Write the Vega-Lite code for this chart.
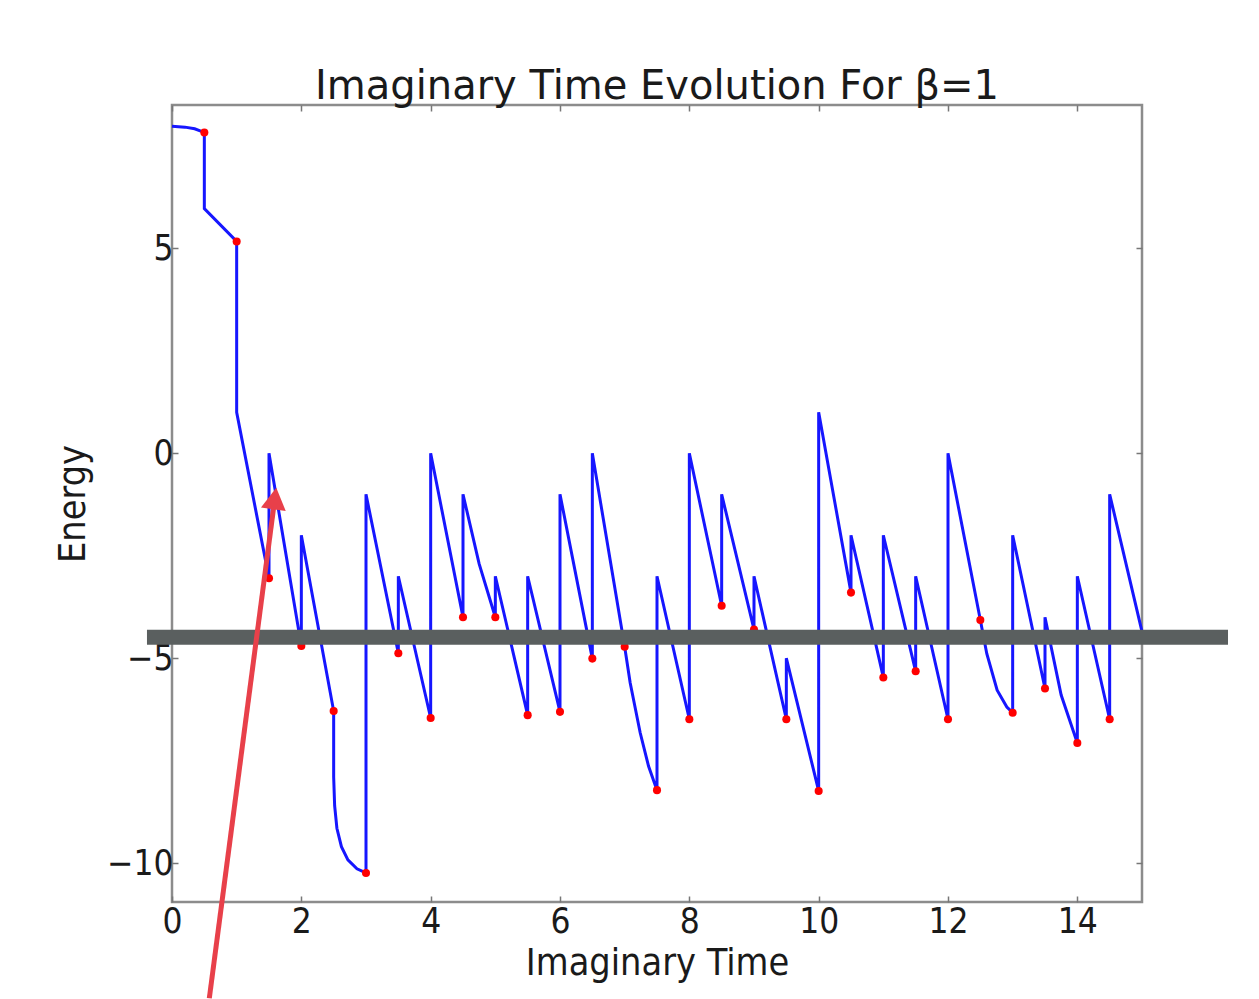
{
  "$schema": "https://vega.github.io/schema/vega-lite/v6.json",
  "autosize": {"type": "none"},
  "width": 970,
  "height": 797,
  "padding": {"left": 172, "top": 105, "right": 117, "bottom": 97},
  "background": "white",
  "title": {"text": "Imaginary Time Evolution For β=1", "fontSize": 40, "font": "DejaVu Sans", "fontWeight": "normal", "color": "#1a1a1a", "baseline": "alphabetic", "offset": 5, "dy": 40, "anchor": "middle"},
  "config": {
    "font": "DejaVu Sans Condensed",
    "view": {"stroke": "#8c8c8c", "strokeWidth": 2.5},
    "axis": {
      "domain": false,
      "grid": false,
      "labelFlush": false,
      "tickSize": -6,
      "tickColor": "#777777",
      "tickWidth": 1.5,
      "labelFontSize": 35,
      "labelColor": "#1a1a1a",
      "labelFont": "DejaVu Sans Condensed",
      "titleFont": "DejaVu Sans Condensed",
      "titleFontSize": 37.5,
      "titleFontWeight": "normal",
      "titleColor": "#1a1a1a"
    }
  },
  "datasets": {
    "curve": [
      {"i": 1, "t": 0, "E": 7.98},
      {"i": 2, "t": 0.2, "E": 7.96},
      {"i": 3, "t": 0.35, "E": 7.92},
      {"i": 4, "t": 0.5, "E": 7.83},
      {"i": 5, "t": 0.5, "E": 5.97},
      {"i": 6, "t": 1.0, "E": 5.17},
      {"i": 7, "t": 1.0, "E": 1.0},
      {"i": 8, "t": 1.5, "E": -3.05},
      {"i": 9, "t": 1.5, "E": 0.0},
      {"i": 10, "t": 2.0, "E": -4.7},
      {"i": 11, "t": 2.0, "E": -2.0},
      {"i": 12, "t": 2.5, "E": -6.29},
      {"i": 13, "t": 2.5, "E": -7.9},
      {"i": 14, "t": 2.515, "E": -8.6},
      {"i": 15, "t": 2.55, "E": -9.15},
      {"i": 16, "t": 2.62, "E": -9.6},
      {"i": 17, "t": 2.72, "E": -9.92},
      {"i": 18, "t": 2.86, "E": -10.14},
      {"i": 19, "t": 3.0, "E": -10.24},
      {"i": 20, "t": 3.0, "E": -1.0},
      {"i": 21, "t": 3.5, "E": -4.88},
      {"i": 22, "t": 3.5, "E": -3.0},
      {"i": 23, "t": 4.0, "E": -6.46},
      {"i": 24, "t": 4.0, "E": 0.0},
      {"i": 25, "t": 4.5, "E": -4.0},
      {"i": 26, "t": 4.5, "E": -1.0},
      {"i": 27, "t": 4.75, "E": -2.7},
      {"i": 28, "t": 5.0, "E": -4.0},
      {"i": 29, "t": 5.0, "E": -3.0},
      {"i": 30, "t": 5.5, "E": -6.39},
      {"i": 31, "t": 5.5, "E": -3.0},
      {"i": 32, "t": 6.0, "E": -6.31},
      {"i": 33, "t": 6.0, "E": -1.0},
      {"i": 34, "t": 6.5, "E": -5.01},
      {"i": 35, "t": 6.5, "E": 0.0},
      {"i": 36, "t": 7.0, "E": -4.72},
      {"i": 37, "t": 7.085, "E": -5.6},
      {"i": 38, "t": 7.24, "E": -6.82},
      {"i": 39, "t": 7.37, "E": -7.64},
      {"i": 40, "t": 7.5, "E": -8.22},
      {"i": 41, "t": 7.5, "E": -3.0},
      {"i": 42, "t": 8.0, "E": -6.49},
      {"i": 43, "t": 8.0, "E": 0.0},
      {"i": 44, "t": 8.5, "E": -3.72},
      {"i": 45, "t": 8.5, "E": -1.0},
      {"i": 46, "t": 9.0, "E": -4.3},
      {"i": 47, "t": 9.0, "E": -3.0},
      {"i": 48, "t": 9.5, "E": -6.49},
      {"i": 49, "t": 9.5, "E": -5.0},
      {"i": 50, "t": 10.0, "E": -8.24},
      {"i": 51, "t": 10.0, "E": 1.0},
      {"i": 52, "t": 10.5, "E": -3.4},
      {"i": 53, "t": 10.5, "E": -2.0},
      {"i": 54, "t": 11.0, "E": -5.47},
      {"i": 55, "t": 11.0, "E": -2.0},
      {"i": 56, "t": 11.5, "E": -5.32},
      {"i": 57, "t": 11.5, "E": -3.0},
      {"i": 58, "t": 12.0, "E": -6.49},
      {"i": 59, "t": 12.0, "E": 0.0},
      {"i": 60, "t": 12.5, "E": -4.07},
      {"i": 61, "t": 12.6, "E": -4.89},
      {"i": 62, "t": 12.76, "E": -5.78},
      {"i": 63, "t": 12.91, "E": -6.19},
      {"i": 64, "t": 13.0, "E": -6.33},
      {"i": 65, "t": 13.0, "E": -2.0},
      {"i": 66, "t": 13.5, "E": -5.74},
      {"i": 67, "t": 13.5, "E": -4.0},
      {"i": 68, "t": 13.75, "E": -5.9},
      {"i": 69, "t": 14.0, "E": -7.07},
      {"i": 70, "t": 14.0, "E": -3.0},
      {"i": 71, "t": 14.5, "E": -6.49},
      {"i": 72, "t": 14.5, "E": -1.0},
      {"i": 73, "t": 15.0, "E": -4.35}
    ],
    "dots": [
      {"t": 0.5, "E": 7.83}, {"t": 1.0, "E": 5.17}, {"t": 1.5, "E": -3.05}, {"t": 2.0, "E": -4.7},
      {"t": 2.5, "E": -6.29}, {"t": 3.0, "E": -10.24}, {"t": 3.5, "E": -4.88}, {"t": 4.0, "E": -6.46},
      {"t": 4.5, "E": -4.0}, {"t": 5.0, "E": -4.0}, {"t": 5.5, "E": -6.39}, {"t": 6.0, "E": -6.31},
      {"t": 6.5, "E": -5.01}, {"t": 7.0, "E": -4.72}, {"t": 7.5, "E": -8.22}, {"t": 8.0, "E": -6.49},
      {"t": 8.5, "E": -3.72}, {"t": 9.0, "E": -4.3}, {"t": 9.5, "E": -6.49}, {"t": 10.0, "E": -8.24},
      {"t": 10.5, "E": -3.4}, {"t": 11.0, "E": -5.47}, {"t": 11.5, "E": -5.32}, {"t": 12.0, "E": -6.49},
      {"t": 12.5, "E": -4.07}, {"t": 13.0, "E": -6.33}, {"t": 13.5, "E": -5.74}, {"t": 14.0, "E": -7.07},
      {"t": 14.5, "E": -6.49}
    ],
    "band": [{"t0": -0.387, "t1": 16.33, "E": -4.49}],
    "arrow": [{"t0": 0.577, "E0": -13.3, "t1": 1.577, "E1": -1.26}],
    "arrowhead": [{"t": 1.59, "E": -1.105}]
  },
  "resolve": {"axis": {"x": "independent", "y": "independent"}},
  "layer": [
    {
      "data": {"name": "curve"},
      "mark": {"type": "line", "color": "#1616ff", "strokeWidth": 3},
      "encoding": {
        "x": {"field": "t", "type": "quantitative", "scale": {"domain": [0, 15], "nice": false, "zero": false},
              "axis": {"orient": "bottom", "values": [0, 2, 4, 6, 8, 10, 12, 14], "title": "Imaginary Time", "labelPadding": 8, "titlePadding": 5}},
        "y": {"field": "E", "type": "quantitative", "scale": {"domain": [-10.95, 8.5], "nice": false, "zero": false},
              "axis": {"orient": "left", "values": [-10, -5, 0, 5], "title": "Energy", "labelPadding": 5, "titlePadding": 14}},
        "order": {"field": "i", "type": "quantitative"}
      }
    },
    {
      "data": {"name": "dots"},
      "mark": {"type": "point", "filled": true, "color": "#ff0000", "size": 65, "opacity": 1},
      "encoding": {
        "x": {"field": "t", "type": "quantitative", "scale": {"domain": [0, 15], "nice": false, "zero": false},
              "axis": {"orient": "top", "values": [0, 2, 4, 6, 8, 10, 12, 14], "labels": false, "title": null}},
        "y": {"field": "E", "type": "quantitative", "scale": {"domain": [-10.95, 8.5], "nice": false, "zero": false},
              "axis": {"orient": "right", "values": [-10, -5, 0, 5], "labels": false, "title": null}}
      }
    },
    {
      "data": {"name": "band"},
      "mark": {"type": "rule", "color": "#5a5f5f", "strokeWidth": 15, "clip": false},
      "encoding": {
        "x": {"field": "t0", "type": "quantitative", "scale": {"domain": [0, 15], "nice": false, "zero": false}, "axis": null},
        "x2": {"field": "t1"},
        "y": {"field": "E", "type": "quantitative", "scale": {"domain": [-10.95, 8.5], "nice": false, "zero": false}, "axis": null}
      }
    },
    {
      "data": {"name": "arrow"},
      "mark": {"type": "rule", "color": "#e8404a", "strokeWidth": 5, "clip": false},
      "encoding": {
        "x": {"field": "t0", "type": "quantitative", "scale": {"domain": [0, 15], "nice": false, "zero": false}, "axis": null},
        "x2": {"field": "t1"},
        "y": {"field": "E0", "type": "quantitative", "scale": {"domain": [-10.95, 8.5], "nice": false, "zero": false}, "axis": null},
        "y2": {"field": "E1"}
      }
    },
    {
      "data": {"name": "arrowhead"},
      "mark": {"type": "point", "shape": "triangle-up", "filled": true, "color": "#e8404a", "opacity": 1, "size": 625, "angle": 7.8, "clip": false},
      "encoding": {
        "x": {"field": "t", "type": "quantitative", "scale": {"domain": [0, 15], "nice": false, "zero": false}, "axis": null},
        "y": {"field": "E", "type": "quantitative", "scale": {"domain": [-10.95, 8.5], "nice": false, "zero": false}, "axis": null}
      }
    }
  ]
}
